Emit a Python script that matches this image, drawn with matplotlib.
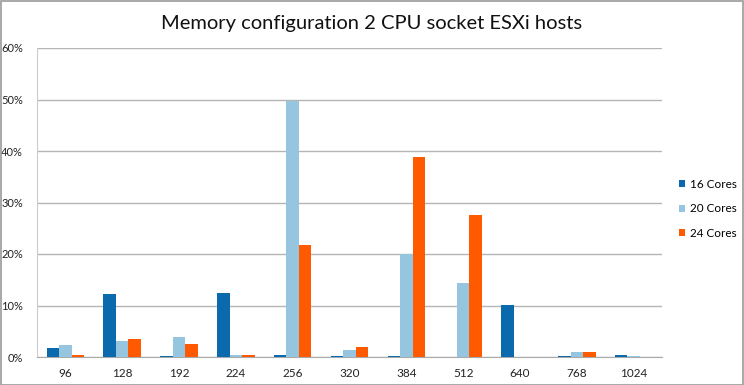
import matplotlib
matplotlib.use("Agg")
import matplotlib.pyplot as plt
import numpy as np
from matplotlib.patches import Rectangle

categories = ["96", "128", "192", "224", "256", "320", "384", "512", "640", "768", "1024"]
cores16 = [1.8, 12.3, 0.1, 12.5, 0.4, 0.1, 0.1, 0.05, 10.1, 0.1, 0.4]
cores20 = [2.3, 3.2, 3.9, 0.4, 49.8, 1.4, 20.0, 14.3, 0.0, 0.9, 0.2]
cores24 = [0.35, 3.55, 2.6, 0.3, 21.8, 1.9, 38.9, 27.5, 0.0, 0.9, 0.0]
series_names = ["16 Cores", "20 Cores", "24 Cores"]
colors = ["#0b6aad", "#95c5df", "#ff5a00"]

plt.rcParams['font.family'] = ['Lato', 'DejaVu Sans']

fig = plt.figure(figsize=(7.44, 3.85), dpi=100)
W, H = 744, 385
ax = fig.add_axes([37 / W, 1 - 357 / H, (662 - 37) / W, (357 - 48) / H])

x = np.arange(len(categories))
bw = 0.22
for i, (vals, name, c) in enumerate(zip([cores16, cores20, cores24], series_names, colors)):
    ax.bar(x + (i - 1) * bw, vals, width=bw, color=c, label=name, zorder=3)

ax.set_xlim(-0.5, len(categories) - 0.5)
ax.set_ylim(0, 60)
ax.set_yticks(np.arange(0, 61, 10))
ax.set_yticklabels([f"{v}%" for v in range(0, 61, 10)], fontsize=8, color="#222222")
ax.set_xticks(x)
ax.set_xticklabels(categories, fontsize=8.5, color="#222222")
ax.tick_params(axis='both', length=0, pad=8)
ax.tick_params(axis='y', pad=10)
ax.grid(axis='y', color="#b5b5b5", linewidth=1, zorder=0)
for s in ["top", "right"]:
    ax.spines[s].set_visible(False)
ax.spines["left"].set_color("#cccccc")
ax.spines["bottom"].set_color("#aaaaaa")

fig.text(0.5, 1 - 24 / H, "Memory configuration 2 CPU socket ESXi hosts",
         ha="center", va="center", fontsize=14.5, color="#111111")

leg = ax.legend(loc="center left", bbox_to_anchor=(668 / W, 1 - 209 / H),
                bbox_transform=fig.transFigure, frameon=False, fontsize=8.5,
                handlelength=0.55, handleheight=0.55, handletextpad=0.4, labelspacing=1.15)

fig.patches.append(Rectangle((0.5 / W, 0.5 / H), 1 - 1.5 / W, 1 - 1.5 / H,
                             transform=fig.transFigure, fill=False,
                             edgecolor="#999999", linewidth=1.2))

fig.savefig("out.png", dpi=100)
